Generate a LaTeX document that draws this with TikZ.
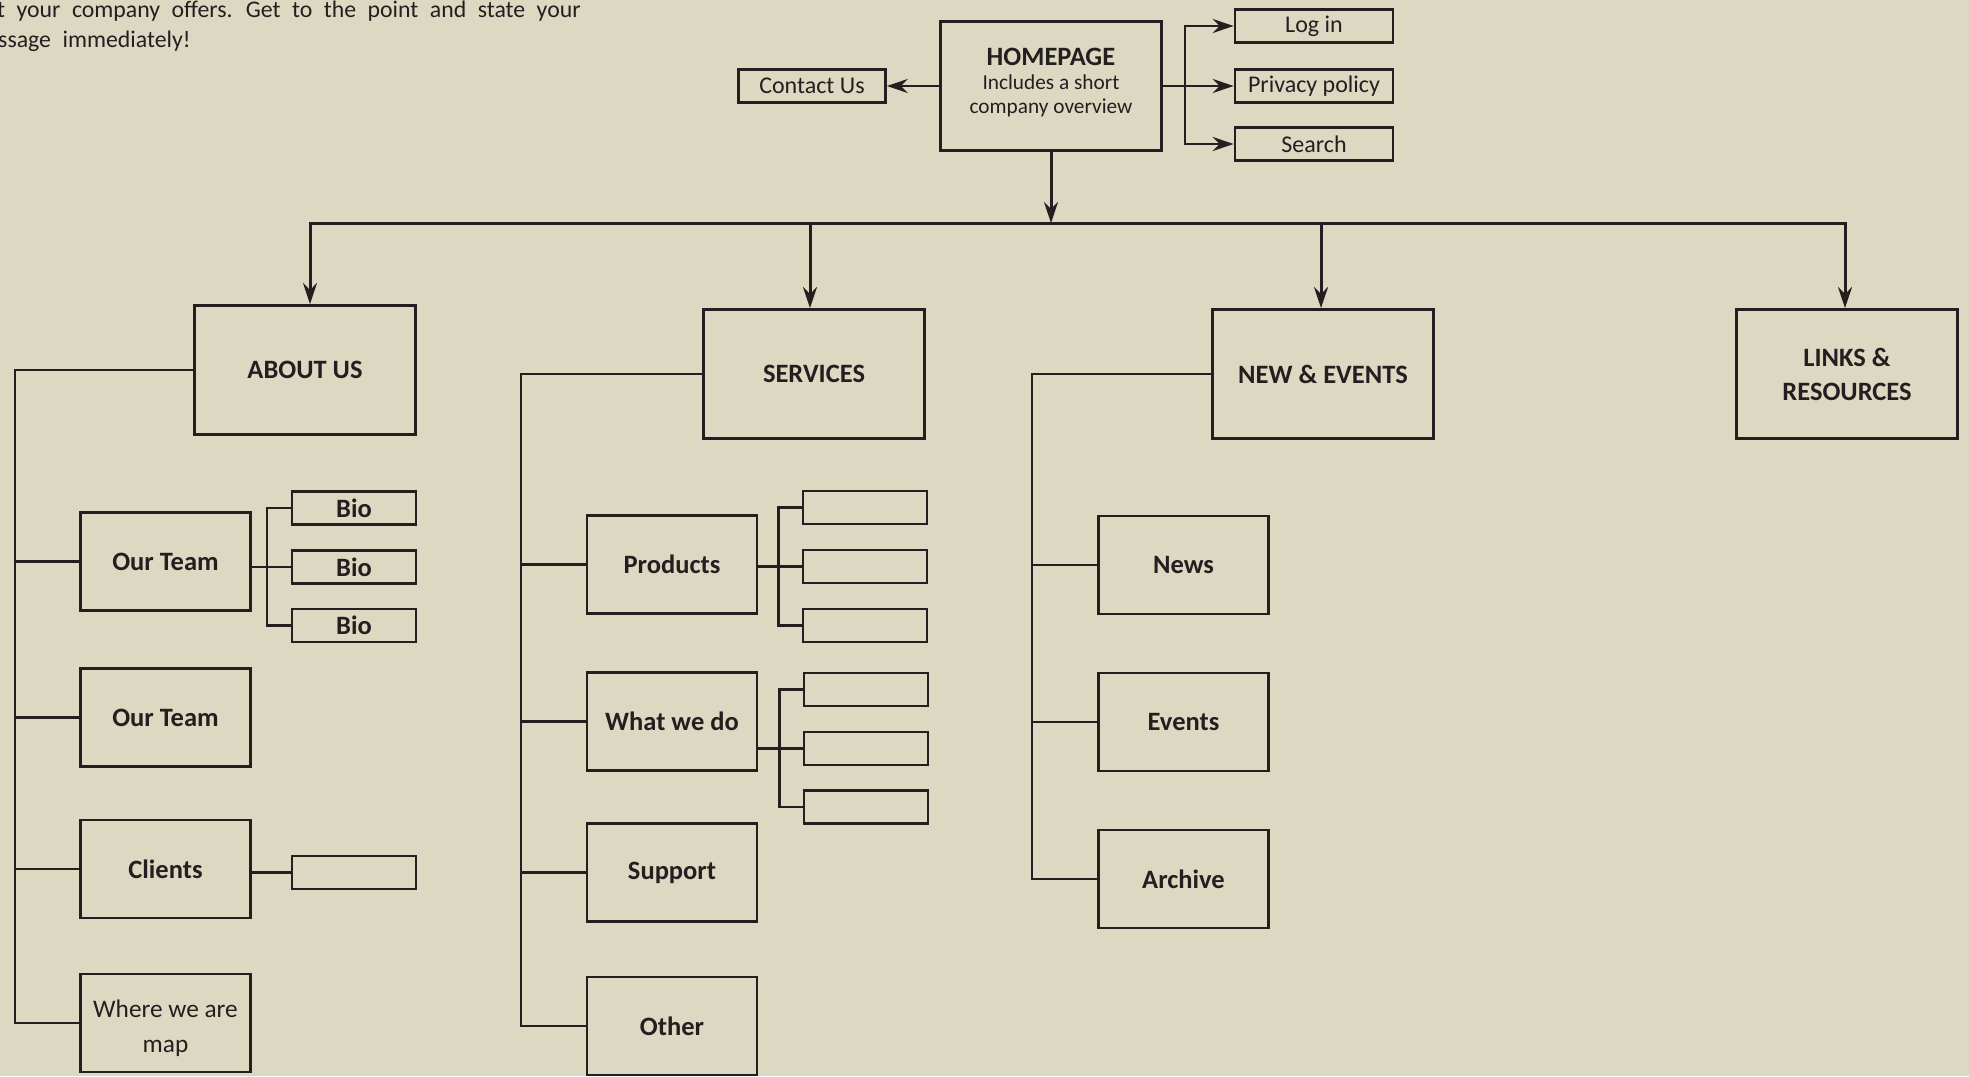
\documentclass[tikz,border=0pt]{standalone}
\usepackage{fontspec}
\setmainfont{Carlito}
\usetikzlibrary{arrows.meta}
\definecolor{paper}{RGB}{220,216,194}
\definecolor{ink}{RGB}{35,31,32}
\newcommand\introfont{\fontsize{23.8}{30}\selectfont\spaceskip=11.5pt\relax}

\begin{document}
\begin{tikzpicture}[x=1pt, y=-1pt,
    >={Stealth[length=21pt, width=14pt, inset=7pt]},
    pagebox/.style={draw=ink, line width=2.9pt, align=center, text=ink, inner sep=2pt},
    mainbox/.style={pagebox, minimum width=221pt, minimum height=129pt, font=\fontsize{26.5}{34}\selectfont\bfseries},
    subbox/.style={pagebox, minimum width=170pt, minimum height=98pt, font=\fontsize{26.5}{34}\selectfont\bfseries},
    leafbox/.style={pagebox, line width=2.7pt, minimum width=124pt, minimum height=33pt, font=\fontsize{26.5}{30}\selectfont\bfseries},
    linkbox/.style={pagebox, line width=2.7pt, minimum width=158pt, minimum height=33pt, font=\fontsize{24}{28}\selectfont},
    intro/.style={anchor=base west, inner sep=0pt, text=ink, font=\introfont},
    wire/.style={draw=ink, line width=2.8pt},
    feed/.style={wire, ->}]

    % page and its margins
    \useasboundingbox (0,0) rectangle (1969,1076);
    \fill[paper] (0,0) rectangle (1969,1076);

    % intro text, cut at the left edge
    \node[intro] (introA) at (-3,17) {t your company offers. Get to the point and state your};
    \node[intro] (introB) at (-2,47) {ssage immediately!};

    % homepage and the pages next to it
    \node[mainbox, font=\fontsize{21.3}{24.5}\selectfont, text depth=10pt] (home) at (1051,86)
        {{\fontsize{26.5}{28}\selectfont\bfseries HOMEPAGE}\\[-1pt]Includes a short\\company overview};
    \node[linkbox, minimum width=147pt] (contact) at (812,86) {Contact Us};
    \node[linkbox] (login) at (1314,26) {Log in};
    \node[linkbox] (privacy) at (1314,86) {Privacy policy};
    \node[linkbox] (search) at (1314,144) {Search};

    \draw[feed] (home.west) -- (contact.east);
    \draw[feed] (home.east) -- (privacy.west);
    \path (home.east) ++(22,0) coordinate (homeFork);
    \draw[feed] (homeFork) |- (login.west);
    \draw[feed] (homeFork) |- (search.west);

    % sections
    \node[mainbox] (about) at (305,370) {ABOUT US};
    \node[mainbox] (services) at (814,374) {SERVICES};
    \node[mainbox] (news) at (1323,374) {NEW \& EVENTS};
    \node[mainbox] (links) at (1847,374) {LINKS \&\\RESOURCES};

    % bus from the homepage down to the sections
    \coordinate (bus) at (1051,223);
    \draw[feed, line width=3pt] (home.south) -- (bus);
    \draw[wire, line width=3pt, <->] ([xshift=5pt]about.north) |- (bus) -| ([xshift=-2pt]links.north);
    \draw[feed, line width=3pt] ([xshift=-4pt]services.north |- bus) -- ([xshift=-4pt]services.north);
    \draw[feed, line width=3pt] ([xshift=-2pt]news.north |- bus) -- ([xshift=-2pt]news.north);

    % about us
    \node[subbox] (team1) at (165.5,561.5) {Our Team};
    \node[subbox] (team2) at (165.5,717.5) {Our Team};
    \node[subbox] (clients) at (165.5,869) {Clients};
    \node[subbox, font=\fontsize{25.3}{35}\selectfont, text depth=0pt] (where) at (165.5,1023) {\rule{0pt}{23pt}Where we are\\map};
    \coordinate (aboutTrunk) at (15,0);
    \draw[wire] (about.west) -| (aboutTrunk |- where.west) -- (where.west);
    \foreach \kid in {team1, team2, clients}
        \draw[wire] (aboutTrunk |- \kid.west) -- (\kid.west);

    \foreach \i/\y in {1/508, 2/567, 3/625.5}
        \node[leafbox] (bio\i) at (354,\y) {Bio};
    \path (team1.east) ++(15,0) coordinate (bioFork);
    \draw[wire] (bio2.west) -- (bio2.west -| team1.east);
    \draw[wire] (bio1.west) -| (bioFork |- bio3.west) -- (bio3.west);

    \node[leafbox] (clientsLeaf) at (354,872.5) {};
    \draw[wire] (clientsLeaf.west) -- (clientsLeaf.west -| clients.east);

    % services
    \node[subbox] (products) at (672,564.5) {Products};
    \node[subbox] (whatwedo) at (672,721.5) {What we do};
    \node[subbox] (support) at (672,872.5) {Support};
    \node[subbox] (other) at (672,1026) {Other};
    \coordinate (servTrunk) at (521,0);
    \draw[wire] (services.west) -| (servTrunk |- other.west) -- (other.west);
    \foreach \kid in {products, whatwedo, support}
        \draw[wire] (servTrunk |- \kid.west) -- (\kid.west);

    \foreach \i/\y in {1/507.5, 2/566.5, 3/625.5}
        \node[leafbox] (prod\i) at (865,\y) {};
    \foreach \i/\y in {1/689.5, 2/748.5, 3/807}
        \node[leafbox] (work\i) at (866,\y) {};
    \path (products.east) ++(20,0) coordinate (prodFork);
    \draw[wire] (prod2.west) -- (prod2.west -| products.east);
    \draw[wire] (prod1.west) -| (prodFork |- prod3.west) -- (prod3.west);
    \path (whatwedo.east) ++(21,0) coordinate (workFork);
    \draw[wire] (work2.west) -- (work2.west -| whatwedo.east);
    \draw[wire] (work1.west) -| (workFork |- work3.west) -- (work3.west);

    % news and events
    \node[subbox] (newsPg) at (1183.5,565) {News};
    \node[subbox] (events) at (1183.5,722) {Events};
    \node[subbox] (archive) at (1183.5,879) {Archive};
    \coordinate (newsTrunk) at (1032,0);
    \draw[wire] (news.west) -| (newsTrunk |- archive.west) -- (archive.west);
    \foreach \kid in {newsPg, events}
        \draw[wire] (newsTrunk |- \kid.west) -- (\kid.west);

\end{tikzpicture}
\end{document}
